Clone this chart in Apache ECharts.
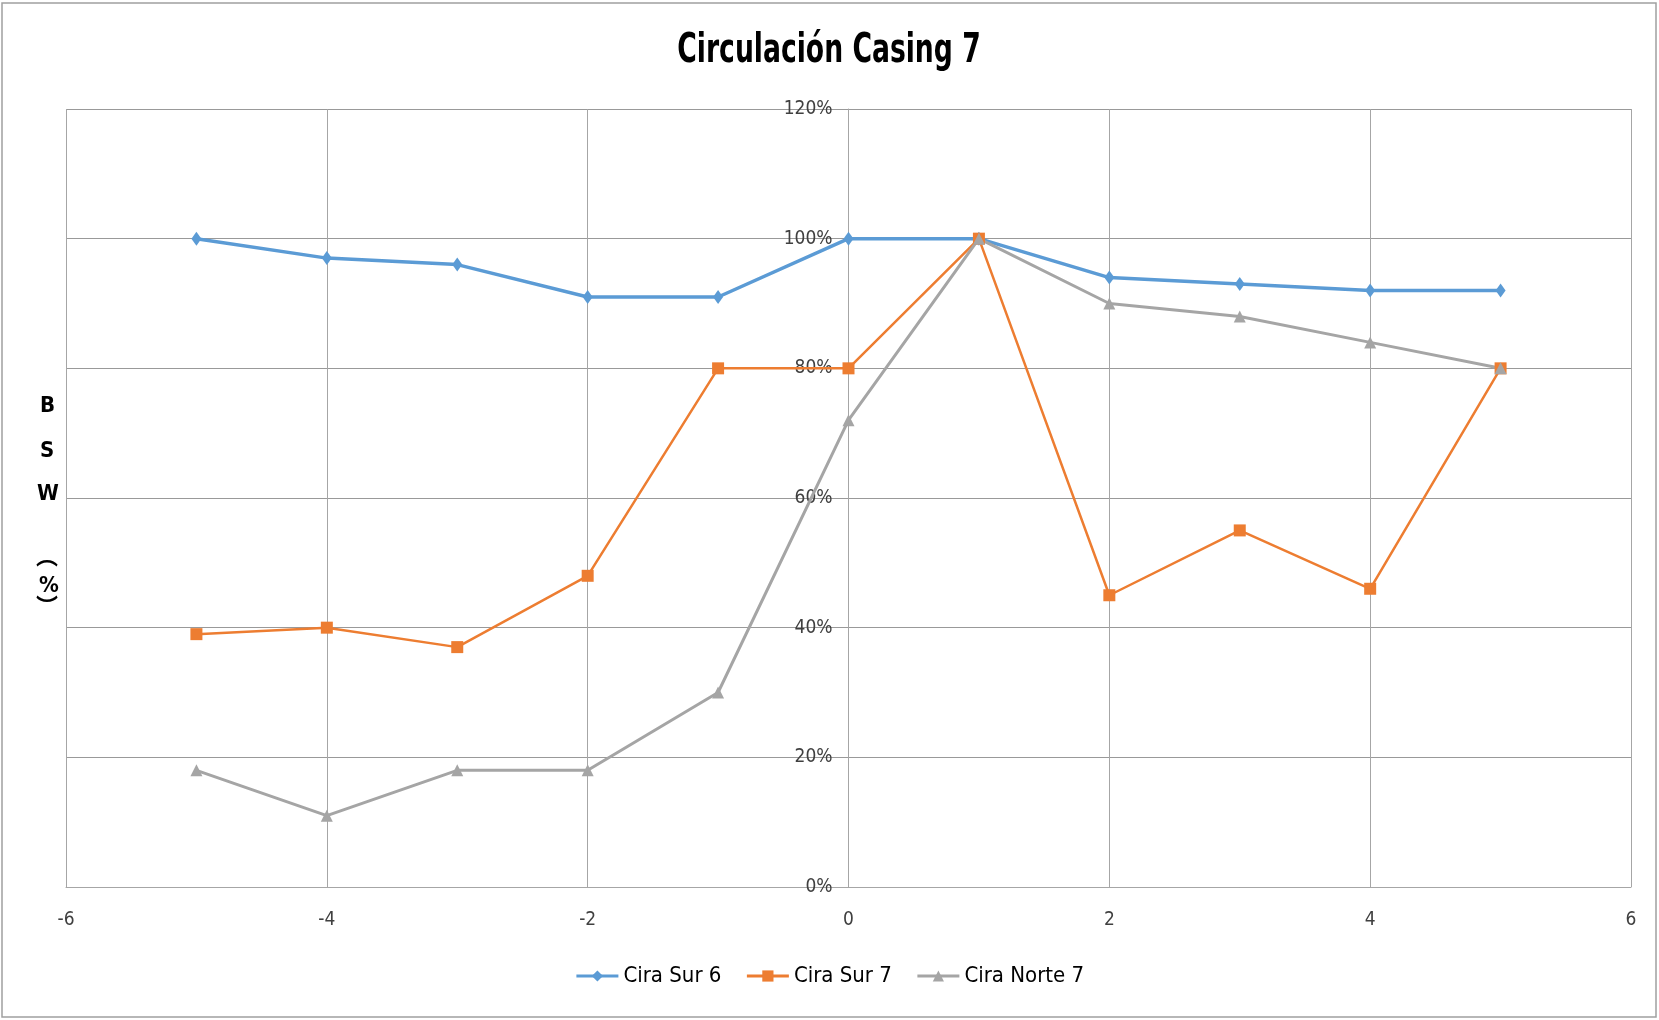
<!DOCTYPE html>
<html>
<head>
<meta charset="utf-8">
<script src="https://cdn.jsdelivr.net/npm/echarts@6/dist/echarts.min.js"></script>
<style>
  html, body { margin: 0; padding: 0; background: #fff; }
  #chart { width: 1659px; height: 1020px; }
</style>
</head>
<body>
<div id="chart"></div>
<script>
const xValues = [-5, -4, -3, -2, -1, 0, 1, 2, 3, 4, 5]
const ciraSur6 = [1.00, 0.97, 0.96, 0.91, 0.91, 1.00, 1.00, 0.94, 0.93, 0.92, 0.92]
const ciraSur7 = [0.39, 0.40, 0.37, 0.48, 0.80, 0.80, 1.00, 0.45, 0.55, 0.46, 0.80]
const ciraNorte7 = [0.18, 0.11, 0.18, 0.18, 0.30, 0.72, 1.00, 0.90, 0.88, 0.84, 0.80]

const font = '"Liberation Sans Narrow", "DejaVu Sans Condensed", "Open Sans", sans-serif'
const gridColor = '#a6a6a6'

const gridLeft = 66
const gridRight = 28
const plotWidth = 1659 - gridLeft - gridRight

const pairs = arr => xValues.map((x, i) => [x, arr[i]])

const chart = echarts.init(document.getElementById('chart'))

const option = {
  backgroundColor: '#fff',
  animation: false,
  graphic: [
    {
      type: 'rect',
      shape: { x: 2, y: 3, width: 1654, height: 1014 },
      style: { fill: 'none', stroke: '#a0a0a0', lineWidth: 1.5 },
      silent: true
    },
    // title, squeezed horizontally like the original condensed face
    {
      type: 'text',
      x: 829,
      y: 52,
      scaleX: 0.74,
      style: {
        text: 'Circulación Casing 7',
        font: 'bold 40px ' + font,
        fill: '#000',
        align: 'center',
        verticalAlign: 'middle'
      }
    },
    {
      type: 'group',
      left: 36,
      top: 395,
      children: [
        { type: 'text', x: 0, y: 0, style: { text: 'B', font: 'bold 22px ' + font, fill: '#000' } },
        { type: 'text', x: 0, y: 45, style: { text: 'S', font: 'bold 22px ' + font, fill: '#000' } },
        { type: 'text', x: -3, y: 88, style: { text: 'W', font: 'bold 22px ' + font, fill: '#000' } },
        { type: 'text', x: -4, y: 150, style: { text: '︵', font: 'bold 22px "Noto Sans CJK SC"', fill: '#000' } },
        { type: 'text', x: -1, y: 180, style: { text: '%', font: 'bold 22px ' + font, fill: '#000' } },
        { type: 'text', x: -4, y: 200, style: { text: '︶', font: 'bold 22px "Noto Sans CJK SC"', fill: '#000' } }
      ]
    }
  ],
  legend: {
    bottom: 28,
    left: 'center',
    itemWidth: 42,
    itemHeight: 14,
    itemGap: 24,
    lineStyle: { width: 3 },
    textStyle: { fontFamily: font, fontSize: 22, color: '#000' },
    data: ['Cira Sur 6', 'Cira Sur 7', 'Cira Norte 7']
  },
  grid: { left: gridLeft, right: gridRight, top: 109, bottom: 133 },
  xAxis: {
    type: 'value',
    min: -6,
    max: 6,
    interval: 2,
    axisLine: { show: true, onZero: false, lineStyle: { color: gridColor } },
    axisTick: { show: false },
    axisLabel: { margin: 24, fontFamily: font, fontSize: 19, color: '#404040' },
    splitLine: { show: true, lineStyle: { color: gridColor, width: 1 } }
  },
  yAxis: {
    type: 'value',
    min: 0,
    max: 1.2,
    interval: 0.2,
    // move the axis to x = 0 (middle of the plot)
    offset: -plotWidth / 2,
    axisLine: { show: true, onZero: false, lineStyle: { color: gridColor } },
    axisTick: { show: false },
    axisLabel: {
      margin: 16,
      fontFamily: font,
      fontSize: 19,
      color: '#404040',
      formatter: v => Math.round(v * 100) + '%'
    },
    splitLine: { show: true, lineStyle: { color: '#999', width: 1.2 } }
  },
  series: [
    {
      name: 'Cira Sur 6',
      type: 'line',
      data: pairs(ciraSur6),
      symbol: 'diamond',
      symbolSize: [10, 14],
      itemStyle: { color: '#5b9bd5' },
      lineStyle: { color: '#5b9bd5', width: 3.5 }
    },
    {
      name: 'Cira Sur 7',
      type: 'line',
      data: pairs(ciraSur7),
      symbol: 'rect',
      symbolSize: 12,
      itemStyle: { color: '#ed7d31' },
      lineStyle: { color: '#ed7d31', width: 2.5 }
    },
    {
      name: 'Cira Norte 7',
      type: 'line',
      data: pairs(ciraNorte7),
      symbol: 'triangle',
      symbolSize: 12,
      itemStyle: { color: '#a5a5a5' },
      lineStyle: { color: '#a5a5a5', width: 3 }
    }
  ]
}

chart.setOption(option)
</script>
</body>
</html>
